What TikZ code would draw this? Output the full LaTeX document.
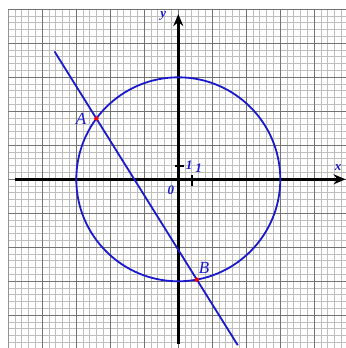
\documentclass[tikz,border=0pt]{standalone}
\usepackage{fontspec}
\setmainfont{Liberation Serif}
\usetikzlibrary{arrows.meta,intersections}
\definecolor{figblue}{RGB}{25,25,205}
\definecolor{minorgray}{RGB}{190,190,190}
\definecolor{majorgray}{RGB}{115,115,115}
\tikzset{
  minorgrid/.style={draw=minorgray,line width=0.9pt},
  majorgrid/.style={draw=majorgray,line width=1pt},
  axisline/.style={draw=black,line width=2.6pt,-{Stealth[length=12pt,width=10pt]}},
  curveline/.style={draw=figblue,line width=1.8pt},
  lbl/.style={text=figblue,font=\bfseries\itshape\fontsize{13}{13}\selectfont,inner sep=0pt},
  biglbl/.style={text=figblue,font=\itshape\fontsize{17}{17}\selectfont,inner sep=0pt},
  pointdot/.style={fill=red,draw=none},
  tickline/.style={draw=black,line width=2pt}
}
\begin{document}
\begin{tikzpicture}[x=6.8pt,y=6.8pt]
\useasboundingbox (-26.22,-24.81) rectangle (24.66,26.37);
\fill[white] (-26.22,-24.81) rectangle (24.66,26.37);
\begin{scope}
\clip (-25,-24.81) rectangle (24.66,25);
\foreach \i in {-25,...,25} {
  \draw[minorgrid] (\i,-25) -- (\i,25);
  \draw[minorgrid] (-25,\i) -- (25,\i);
}
\foreach \i in {-25,-20,...,25} {
  \draw[majorgrid] (\i,-25) -- (\i,25);
  \draw[majorgrid] (-25,\i) -- (25,\i);
}
\end{scope}
\coordinate (xs) at (-24,0);
\coordinate (xe) at (24.6,0);
\coordinate (ys) at (0,-24.2);
\coordinate (ye) at (0,24.3);
\draw[axisline] (xs) -- (xe);
\draw[axisline] (ys) -- (ye);
\coordinate (tx1) at (2,0.6);
\coordinate (tx2) at (2,-1);
\coordinate (ty1) at (-0.5,2);
\coordinate (ty2) at (0.9,2);
\draw[tickline] (tx1) -- (tx2);
\draw[tickline] (ty1) -- (ty2);
\coordinate (O) at (0,0);
\draw[curveline,name path=circ] (O) circle[radius=15];
\coordinate (l1) at (-18.2,18.8);
\coordinate (l2) at (8.75,-24.4);
\draw[curveline,name path=lin] (l1) -- (l2);
\path[name intersections={of=circ and lin,name=P}];
\fill[pointdot] (P-1) circle[radius=0.32];
\fill[pointdot] (P-2) circle[radius=0.32];
\node[biglbl] (A) at (-14.3,8.9) {A};
\node[biglbl] (B) at (3.8,-13.0) {B};
\node[lbl] (xl) at (23.5,1.8) {x};
\node[lbl] (yl) at (-2.2,24.0) {y};
\node[lbl] (zero) at (-1.1,-1.6) {0};
\node[lbl] (one1) at (1.6,2.1) {1};
\node[lbl] (one2) at (3.0,1.6) {1};
\end{tikzpicture}
\end{document}
